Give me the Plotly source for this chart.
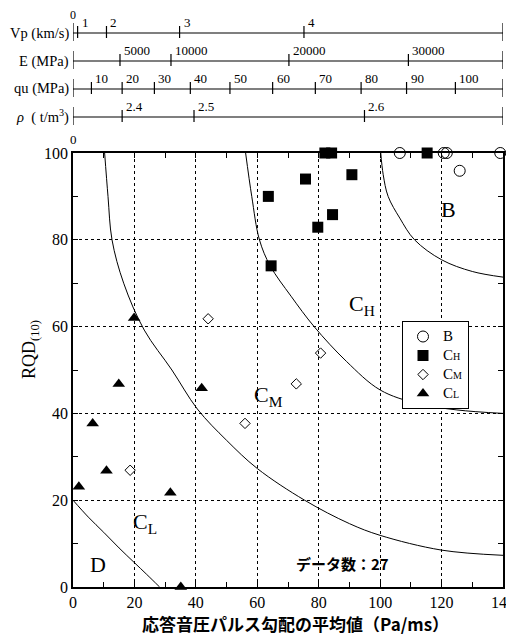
import plotly.graph_objects as go

# ---------------- data ----------------
B_x = [106.4, 120.7, 121.7, 139.1, 125.9]
B_y = [100, 100, 100, 100, 95.9]
CH_x = [82.0, 84.2, 115.3, 75.7, 90.8, 63.6, 84.5, 79.7, 64.5]
CH_y = [100, 100, 100, 94.0, 95.0, 90.0, 85.8, 82.9, 74.0]
CM_x = [44.0, 80.6, 72.7, 56.0, 18.6]
CM_y = [61.8, 53.9, 46.8, 37.7, 26.9]
CL_x = [19.9, 14.9, 41.9, 6.4, 10.9, 1.9, 31.7, 35.1]
CL_y = [62.0, 46.8, 45.8, 37.7, 26.8, 23.1, 21.7, 0]

# boundary curves
curveD_x = [0, 5, 10, 15, 20, 24, 28.2]
curveD_y = [20, 16.1, 12.6, 9.0, 5.6, 2.9, 0]
curveL_x = [10.3, 11.4, 12.7, 16.5, 23.2, 32.2, 40.5, 50, 60, 75.4, 90, 100, 120, 140]
curveL_y = [100, 90, 80, 70, 59.2, 50, 41, 33.8, 27.3, 20, 14.6, 11.9, 8.5, 7.3]
curveM_x = [56.2, 58.2, 60.7, 64.2, 71, 78.5, 89, 100, 112, 125, 140]
curveM_y = [100, 90, 80, 74, 67, 60, 52, 45.4, 42.3, 40.8, 40.0]
curveB_x = [100.2, 101, 102.6, 106.4, 111.2, 120, 130, 140]
curveB_y = [100, 95, 90, 85, 80, 75.4, 72.7, 71.4]

# auxiliary scales (positions on the x axis)
Vp_pos = [0, 1.5, 10.9, 34.7, 75.2, 140]
Vp_lab = ["", "1", "2", "3", "4", ""]
E_pos = [0, 15.3, 31.9, 70.3, 109.2, 140]
E_lab = ["", "5000", "10000", "20000", "30000", ""]
qu_pos = [0, 6.0, 16.0, 26.5, 38.2, 51.1, 65.0, 78.9, 93.8, 108.6, 124.5, 140]
qu_lab = ["", "10", "20", "30", "40", "50", "60", "70", "80", "90", "100", ""]
rho_pos = [0, 16.0, 39.4, 94.9, 140]
rho_lab = ["", "2.4", "2.5", "2.6", ""]

# legend names
legend_names = [
    "<span style='font-size:15px'>B</span>",
    "<span style='font-size:15px'>C</span><span style='font-size:10px'>H</span>",
    "<span style='font-size:15px'>C</span><span style='font-size:10px'>M</span>",
    "<span style='font-size:15px'>C</span><span style='font-size:10px'>L</span>",
]

# region labels
region_text = ["B", "C<sub>H</sub>", "C<sub>M</sub>", "C<sub>L</sub>", "D"]
region_x = [122.4, 94.0, 63.8, 23.5, 8.1]
region_y = [86.9, 65.0, 44.1, 14.8, 5.1]

SERIF = "Liberation Serif"
JP = "Noto Sans CJK JP"

# ---------------- layout geometry ----------------
OFF = 8                      # page body margin
W, H = 514 - OFF, 636 - OFF
PL, PR, PT, PB = 73, 503, 153, 587   # plot box in page pixels
ML, MT = PL - OFF, PT - OFF
MR = W - (PR - OFF)
MB = H - (PB - OFF)
PW, PH = PR - PL, PB - PT


def py2paper(py):
    return (PB - py) / PH


def px2paper(px):
    return (px - PL) / PW


fig = go.Figure()

for cx, cy in [(curveD_x, curveD_y), (curveL_x, curveL_y),
               (curveM_x, curveM_y), (curveB_x, curveB_y)]:
    fig.add_trace(go.Scatter(x=cx, y=cy, mode="lines",
                             line=dict(color="black", width=1, shape="spline"),
                             showlegend=False, hoverinfo="skip"))

fig.add_trace(go.Scatter(x=B_x, y=B_y, mode="markers", name=legend_names[0],
                         marker=dict(symbol="circle-open", size=11, color="black",
                                     line=dict(width=1, color="black")),
                         cliponaxis=False))
fig.add_trace(go.Scatter(x=CH_x, y=CH_y, mode="markers", name=legend_names[1],
                         marker=dict(symbol="square", size=11, color="black"),
                         cliponaxis=False))
fig.add_trace(go.Scatter(x=CM_x, y=CM_y, mode="markers", name=legend_names[2],
                         marker=dict(symbol="diamond-open", size=8, color="black",
                                     line=dict(width=1, color="black")),
                         cliponaxis=False))
fig.add_trace(go.Scatter(x=CL_x, y=CL_y, mode="markers", name=legend_names[3],
                         marker=dict(symbol="triangle-up", size=11, color="black"),
                         cliponaxis=False))

shapes = []
annotations = []

# auxiliary scales
rows = [
    ("Vp (km/s)", Vp_pos, Vp_lab, 33),
    ("E (MPa)", E_pos, E_lab, 61),
    ("qu (MPa)", qu_pos, qu_lab, 89),
    ("<i>ρ</i>  ( t/m<sup>3</sup>)", rho_pos, rho_lab, 117),
]
for title, pos, lab, py in rows:
    yl = py2paper(py)
    shapes.append(dict(type="line", xref="x", yref="paper", x0=pos[0], x1=pos[-1],
                       y0=yl, y1=yl, line=dict(color="black", width=1.2)))
    for i, (p, t) in enumerate(zip(pos, lab)):
        end = i == 0 or i == len(pos) - 1
        up, dn = (10, 8) if end else (7, 5)
        shapes.append(dict(type="line", xref="x", yref="paper", x0=p, x1=p,
                           y0=py2paper(py + dn), y1=py2paper(py - up),
                           line=dict(color="black", width=1.2)))
        if t:
            annotations.append(dict(x=p, y=yl, xref="x", yref="paper", text=t,
                                    showarrow=False, xanchor="left", yanchor="bottom",
                                    xshift=2, yshift=1,
                                    font=dict(family=SERIF, size=13, color="black")))
    annotations.append(dict(x=px2paper(71), y=yl, xref="paper", yref="paper",
                            text=title, showarrow=False, xanchor="right",
                            yanchor="middle",
                            font=dict(family=SERIF, size=14.5, color="black")))

annotations.append(dict(x=0, y=py2paper(15), xref="x", yref="paper", text="0",
                        showarrow=False, xanchor="center", yanchor="middle",
                        font=dict(family=SERIF, size=12, color="black")))
annotations.append(dict(x=0, y=py2paper(140), xref="x", yref="paper", text="0",
                        showarrow=False, xanchor="center", yanchor="middle",
                        font=dict(family=SERIF, size=13, color="black")))
annotations.append(dict(x=140, y=py2paper(27), xref="x", yref="paper", text="5",
                        showarrow=False, xanchor="left", yanchor="middle", xshift=1,
                        font=dict(family=SERIF, size=13, color="black")))

for t, x, y in zip(region_text, region_x, region_y):
    annotations.append(dict(x=x, y=y, xref="x", yref="y", text=t, showarrow=False,
                            xanchor="center", yanchor="middle",
                            font=dict(family=SERIF, size=22, color="black")))

annotations.append(dict(x=87.8, y=5.5, xref="x", yref="y", text="データ数：27",
                        showarrow=False, xanchor="center", yanchor="middle",
                        font=dict(family=JP, size=15, color="black", weight="bold")))

annotations.append(dict(x=px2paper(295), y=py2paper(623), xref="paper",
                        yref="paper", text="応答音圧パルス勾配の平均値（Pa/ms）",
                        showarrow=False, xanchor="center", yanchor="middle",
                        font=dict(family=JP, size=17, color="black", weight="bold")))
annotations.append(dict(x=px2paper(30), y=py2paper(350), xref="paper",
                        yref="paper", text="RQD<sub>(10)</sub>", textangle=-90,
                        showarrow=False, xanchor="center", yanchor="middle",
                        font=dict(family=SERIF, size=18, color="black")))

axis_common = dict(showline=True, linecolor="black", linewidth=1.5, mirror="ticks",
                   ticks="inside", ticklen=5, tickcolor="black", tickwidth=1,
                   showgrid=True, gridcolor="black", gridwidth=1, griddash="3px,3px",
                   zeroline=False, automargin=False, ticklabeloverflow="allow",
                   tickfont=dict(family=SERIF, size=16, color="black"),
                   minor=dict(ticks="inside", dtick=10, ticklen=5, tickcolor="black",
                              showgrid=False))

fig.update_layout(
    template="none",
    width=W, height=H,
    margin=dict(l=ML, r=MR, t=MT, b=MB, pad=0),
    font=dict(family=SERIF, color="black"),
    paper_bgcolor="white", plot_bgcolor="white",
    xaxis=dict(range=[0, 140], dtick=20, tick0=0, **axis_common),
    yaxis=dict(range=[0, 100], dtick=20, tick0=0, **axis_common),
    shapes=shapes,
    annotations=annotations,
    legend=dict(x=px2paper(402), y=py2paper(321), xanchor="left",
                yanchor="top", bordercolor="black", borderwidth=1, bgcolor="white",
                font=dict(family=SERIF, size=12, color="black"), itemwidth=30,
                tracegroupgap=0),
    showlegend=True,
)

fig.write_html("out.html")
